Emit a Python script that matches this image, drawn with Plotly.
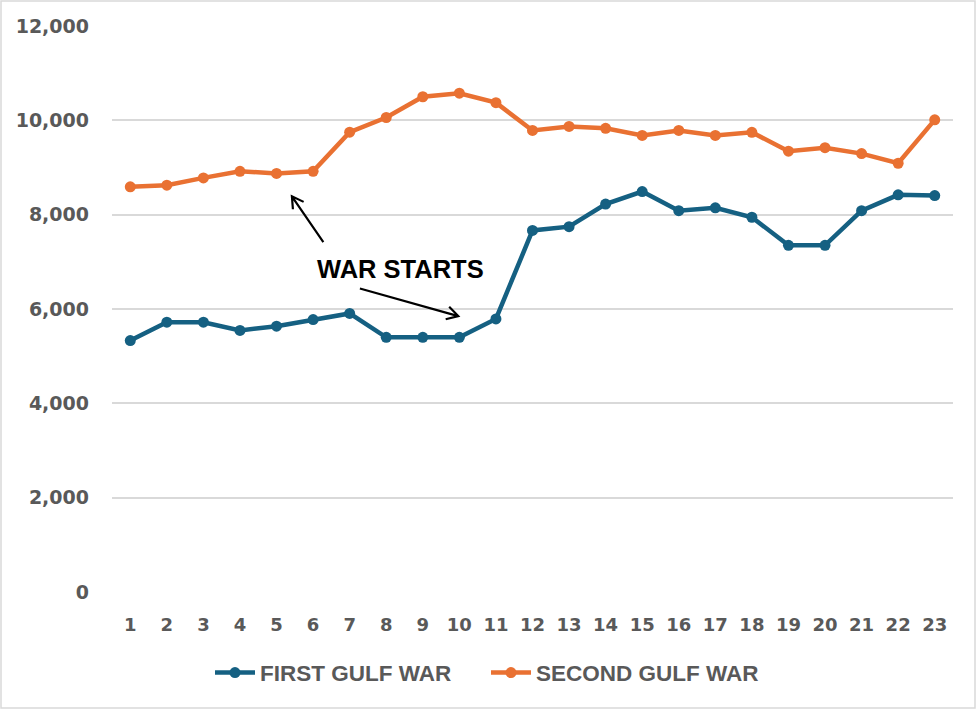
import plotly.graph_objects as go
import math

periods = list(range(1, 24))
first_gulf_war = [5330, 5720, 5720, 5545, 5635, 5775, 5905, 5400, 5400, 5400, 5790,
                  7665, 7745, 8225, 8490, 8085, 8145, 7945, 7350, 7350, 8085, 8420, 8405]
second_gulf_war = [8590, 8625, 8780, 8920, 8875, 8920, 9750, 10060, 10500, 10575, 10375,
                   9785, 9870, 9830, 9680, 9785, 9680, 9745, 9345, 9420, 9295, 9090, 10010]
y_ticks = [0, 2000, 4000, 6000, 8000, 10000, 12000]

BLUE = "#156082"
ORANGE = "#E97132"
GRAY_TXT = "#595959"

W, H = 977, 709
ML, MR, MT, MB = 112, 24, 26, 117
PW, PH = W - ML - MR, H - MT - MB
XR = [0.5, 23.5]
YR = [0, 12000]

fig = go.Figure()
fig.add_trace(go.Scatter(x=periods, y=first_gulf_war, name="FIRST GULF WAR",
                         mode="lines+markers", line=dict(color=BLUE, width=4.5),
                         marker=dict(color=BLUE, size=11), legend="legend",
                         showlegend=True))
fig.add_trace(go.Scatter(x=periods, y=second_gulf_war, name="SECOND GULF WAR",
                         mode="lines+markers", line=dict(color=ORANGE, width=4.5),
                         marker=dict(color=ORANGE, size=11), legend="legend2",
                         showlegend=True))

# arrows (tail -> head) in data coordinates
arrows = [((6.28, 7420), (5.42, 8390)), ((7.28, 6435), (9.97, 5850))]

def to_px(x, y):
    return ((x - XR[0]) / (XR[1] - XR[0]) * PW, (y - YR[0]) / (YR[1] - YR[0]) * PH)

def to_data(px, py):
    return (XR[0] + px / PW * (XR[1] - XR[0]), YR[0] + py / PH * (YR[1] - YR[0]))

shapes = []
for (tx, ty), (hx, hy) in arrows:
    tpx, tpy = to_px(tx, ty)
    hpx, hpy = to_px(hx, hy)
    ang = math.atan2(hpy - tpy, hpx - tpx)
    L = 13
    pts = []
    for d in (math.radians(150), -math.radians(150)):
        pts.append(to_data(hpx + L * math.cos(ang + d), hpy + L * math.sin(ang + d)))
    path = (f"M {tx},{ty} L {hx},{hy} "
            f"M {pts[0][0]},{pts[0][1]} L {hx},{hy} L {pts[1][0]},{pts[1][1]}")
    shapes.append(dict(type="path", xref="x", yref="y", path=path,
                       line=dict(color="black", width=2.2)))

# chart border
shapes.append(dict(type="rect", xref="paper", yref="paper",
                   x0=-(ML - 1) / PW, x1=(PW + MR - 2) / PW,
                   y0=-(MB - 1) / PH, y1=(PH + MT - 1) / PH,
                   line=dict(color="#d9d9d9", width=1.5), fillcolor="rgba(0,0,0,0)",
                   layer="below"))

legend_font = dict(family="Liberation Sans, Arial", size=22.5, color=GRAY_TXT,
                   weight="bold")

fig.update_layout(
    width=W, height=H,
    showlegend=True,
    margin=dict(l=ML, r=MR, t=MT, b=MB),
    paper_bgcolor="white", plot_bgcolor="white",
    shapes=shapes,
    annotations=[dict(x=8.38, y=6850, xref="x", yref="y", text="WAR STARTS",
                      showarrow=False,
                      font=dict(family="Liberation Sans, Arial", size=25.5, color="black",
                                weight="bold"))],
    legend=dict(orientation="h", x=(210 - ML) / PW, xanchor="left", y=-0.143,
                yanchor="middle", font=legend_font, itemwidth=40, visible=True),
    legend2=dict(orientation="h", x=(486 - ML) / PW, xanchor="left", y=-0.143,
                 yanchor="middle", font=legend_font, itemwidth=40, visible=True),
    xaxis=dict(range=XR, tickmode="array", tickvals=periods,
               ticktext=[str(p) for p in periods], showgrid=False, zeroline=False,
               showline=False, ticks="", ticklabelstandoff=20,
               tickfont=dict(family="DejaVu Sans", size=18, color=GRAY_TXT, weight="bold")),
    yaxis=dict(range=YR, tickmode="array", tickvals=y_ticks, tickformat=",",
               showgrid=True, gridcolor="#d9d9d9", gridwidth=1.5, zeroline=False,
               showline=False, ticks="", ticklabelstandoff=22,
               tickfont=dict(family="DejaVu Sans", size=19, color=GRAY_TXT, weight="bold")),
)

fig.write_html("out.html")
